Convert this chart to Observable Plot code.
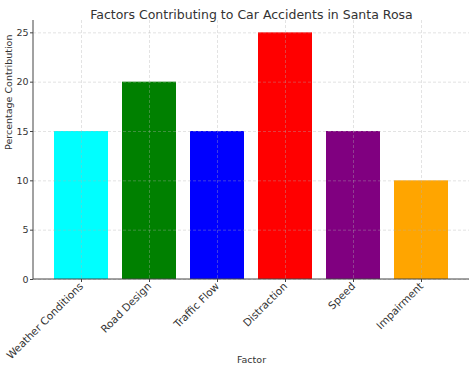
<!DOCTYPE html>
<html>
<head>
<meta charset="utf-8">
<script src="https://cdn.jsdelivr.net/npm/d3@7"></script>
<script src="https://cdn.jsdelivr.net/npm/@observablehq/plot@0.6"></script>
<style>
  html, body { margin: 0; padding: 0; background: #fff; }
  svg { display: block; }
</style>
</head>
<body>
<div id="chart"></div>
<script>
const factors = ["Weather Conditions", "Road Design", "Traffic Flow", "Distraction", "Speed", "Impairment"];
const values = [15, 20, 15, 25, 15, 10];
const colors = ["#00ffff", "#008000", "#0000ff", "#ff0000", "#800080", "#ffa500"];
const yTicks = [0, 5, 10, 15, 20, 25];
const title = "Factors Contributing to Car Accidents in Santa Rosa";
const xLabel = "Factor";
const yLabel = "Percentage Contribution";

const data = factors.map((f, i) => ({factor: f, value: values[i], color: colors[i]}));

const W = 474, H = 371, mL = 33, mR = 5, mT = 20, mB = 92;
const ink = "#333";

const spines = (index, scales, vals, dims) => {
  const g = d3.create("svg:g").attr("stroke", "#444").attr("stroke-width", 1);
  g.append("line").attr("x1", dims.marginLeft).attr("x2", dims.marginLeft)
    .attr("y1", dims.marginTop).attr("y2", dims.height - dims.marginBottom);
  g.append("line").attr("x1", dims.marginLeft).attr("x2", dims.width - dims.marginRight)
    .attr("y1", dims.height - dims.marginBottom).attr("y2", dims.height - dims.marginBottom);
  return g.node();
};

const chart = Plot.plot({
  width: W, height: H,
  marginLeft: mL, marginRight: mR, marginTop: mT, marginBottom: mB,
  style: {fontFamily: "DejaVu Sans", fontSize: "9.5px", color: ink, background: "#fff"},
  x: {domain: factors, paddingInner: 0.2, paddingOuter: 0.29, label: null},
  y: {domain: [0, 26.25], label: null},
  marks: [
    Plot.barY(data, {x: "factor", y: "value", fill: "color"}),
    Plot.gridX(factors, {stroke: "#b0b0b0", strokeOpacity: 0.45, strokeDasharray: "3,2", strokeWidth: 0.8}),
    Plot.gridY(yTicks, {stroke: "#b0b0b0", strokeOpacity: 0.45, strokeDasharray: "3,2", strokeWidth: 0.8}),
    Plot.axisY(yTicks, {tickSize: 3, tickPadding: 2, label: null, fill: ink, stroke: "#444", fontSize: 9.5}),
    Plot.axisX({tickSize: 3, tickPadding: 2, tickRotate: -45, label: null, fill: ink, stroke: "#444", fontSize: 10.5}),
    spines,
    Plot.text([title], {frameAnchor: "top", dy: -10, fontSize: 12.5, fill: ink}),
    Plot.text([xLabel], {frameAnchor: "bottom", dy: 83, fontSize: 9.5, fill: ink}),
    Plot.text([yLabel], {frameAnchor: "left", dx: -25, rotate: -90, fontSize: 9.5, fill: ink})
  ]
});
document.getElementById("chart").appendChild(chart);
</script>
</body>
</html>
